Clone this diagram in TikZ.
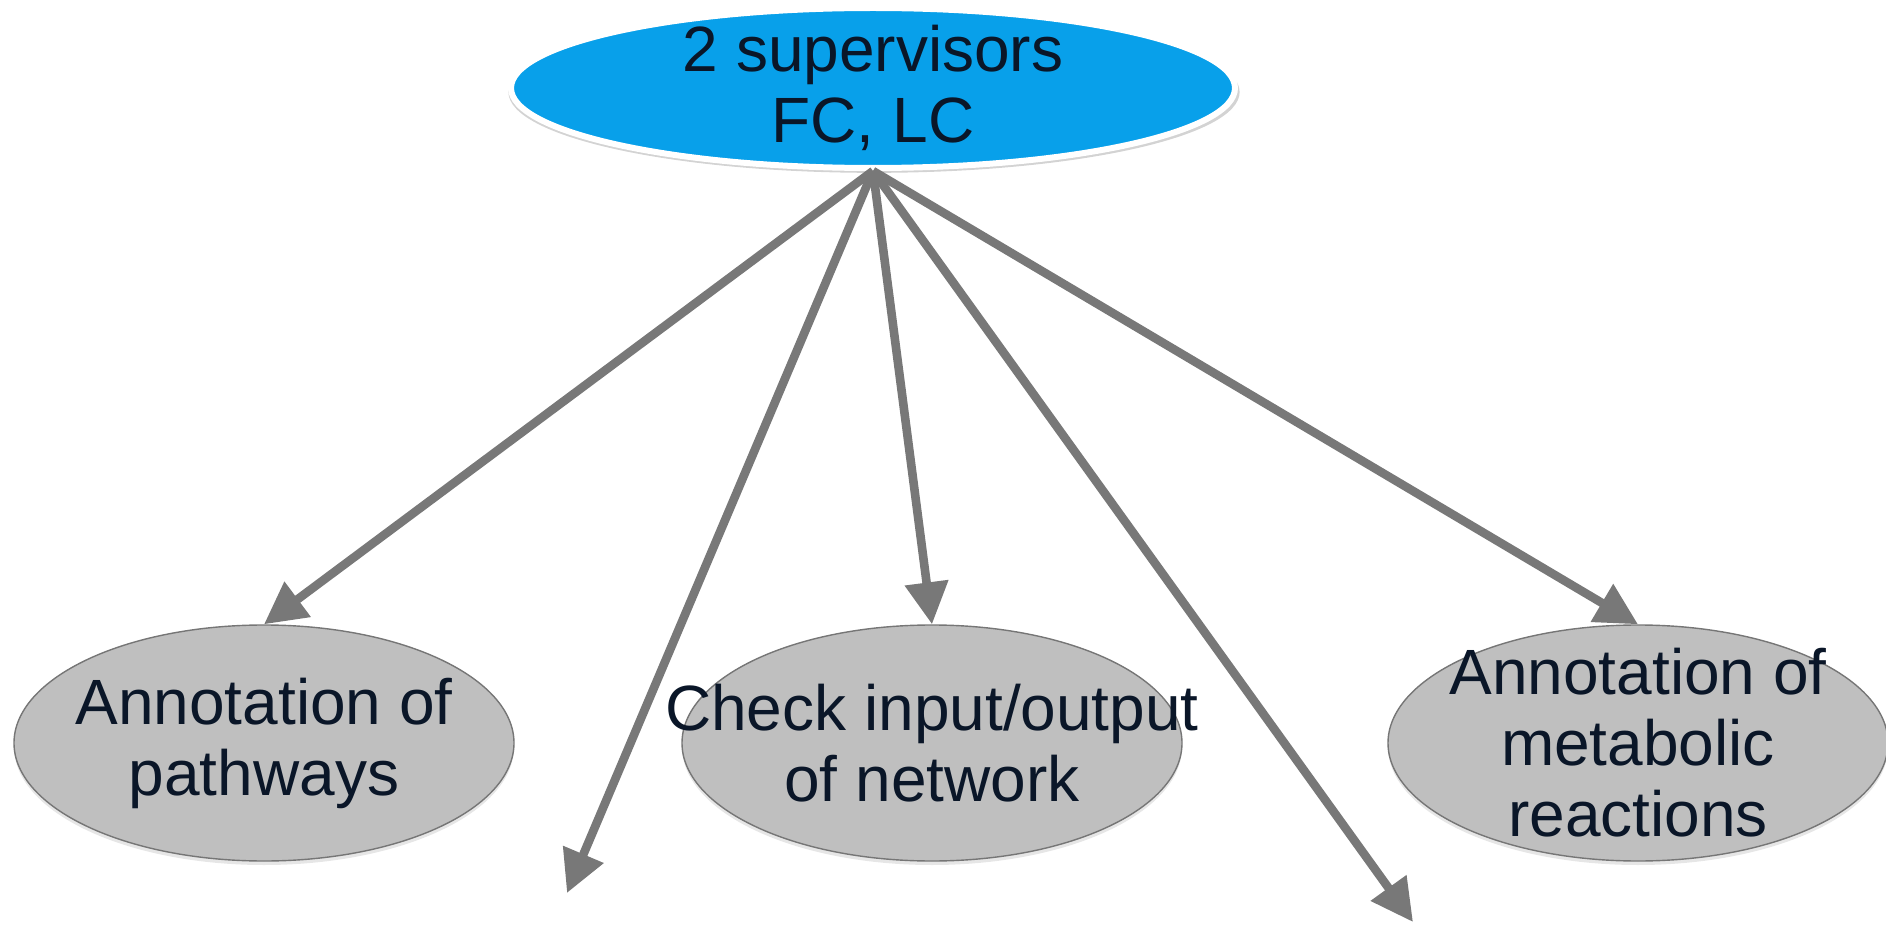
\documentclass[tikz,border=0pt]{standalone}
\usepackage{fontspec}
\setmainfont{Liberation Sans}
\usetikzlibrary{shapes.geometric,arrows.meta,shadows}
\definecolor{supblue}{RGB}{8,160,234}
\definecolor{taskgrey}{RGB}{191,191,191}
\definecolor{rimgrey}{RGB}{118,118,118}
\definecolor{arrgrey}{RGB}{120,120,120}
\definecolor{ink}{RGB}{10,22,40}

\begin{document}
\begin{tikzpicture}[x=.5pt,y=-.5pt,font=\fontsize{32}{35.5}\selectfont,
 supbox/.style={ellipse,fill=supblue,draw=white,line width=3pt,minimum width=362pt,minimum height=80pt,inner sep=0pt,
  drop shadow={shadow xshift=.5pt,shadow yshift=-2pt,shadow scale=1.01,opacity=.35}},
 taskbox/.style={ellipse,fill=taskgrey,draw=rimgrey,line width=.7pt,minimum width=250pt,minimum height=118pt,inner sep=0pt,
  drop shadow={shadow xshift=0pt,shadow yshift=-2pt,opacity=.2}},
 lab/.style={align=center,text=ink,inner sep=0pt},
 arr/.style={draw=arrgrey,line width=4.3pt,-{Triangle[length=21pt,width=21pt]}}]
\useasboundingbox (0,0) rectangle (1886,925);
\node[supbox] (sup) at (873,88) {};
\node[lab] (sup-t) at (sup) {2 supervisors\\FC, LC};
\foreach \nm/\x/\txt in {pw/264/{Annotation of\\pathways},io/932/{Check input/output\\of network},mr/1638/{Annotation of\\metabolic\\reactions}}{
 \node[taskbox] (\nm) at (\x,743) {};
 \node[lab] (\nm-t) at (\nm) {\txt};
}
\coordinate (e1) at (567,893);
\coordinate (e2) at (1413,922);
\foreach \dst in {pw.north,e1,io.north,e2,mr.north}{\draw[arr] (sup.south) -- (\dst);}
\end{tikzpicture}
\end{document}
